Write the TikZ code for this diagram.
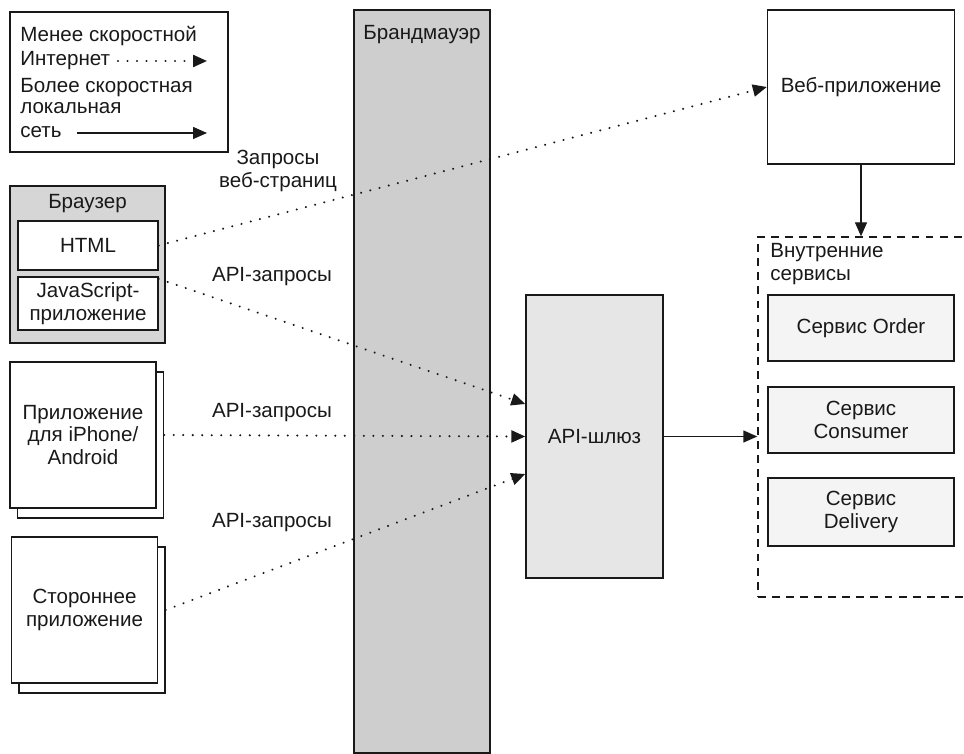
\documentclass[tikz,border=0pt]{standalone}
\usepackage{fontspec}
\setmainfont{Liberation Sans}
\usetikzlibrary{arrows.meta,shadows}
\definecolor{lineblack}{RGB}{25,25,25}
\definecolor{wallgray}{RGB}{206,206,206}
\definecolor{browsergray}{RGB}{214,214,214}
\definecolor{gatewaygray}{RGB}{230,230,230}
\definecolor{servicegray}{RGB}{244,244,244}

\begin{document}
\begin{tikzpicture}[font=\fontsize{11.7}{13}\selectfont,text=lineblack,
  box/.style={draw=lineblack,line width=0.8pt,fill=white,align=center,inner sep=0pt},
  appbox/.style={box,minimum width=2.92cm,minimum height=2.92cm,
    general shadow={shadow xshift=0.15cm,shadow yshift=-0.2cm,fill=white,draw=lineblack,line width=0.8pt}},
  svcbox/.style={box,fill=servicegray,minimum width=3.72cm,minimum height=1.32cm},
  legtext/.style={anchor=west,inner sep=0pt,text height=1.5ex,text depth=0.35ex},
  slow/.style={-{Triangle[length=2.8mm,width=2.4mm]},line width=1.3pt,line cap=round,
    dash pattern=on 0.01pt off 5.4pt,draw=lineblack},
  fast/.style={-{Triangle[length=2.8mm,width=2.4mm]},line width=0.8pt,draw=lineblack}]
\useasboundingbox (0,0) rectangle (19.28,15.06);
\node[draw=lineblack,fill=wallgray,line width=0.8pt,minimum width=2.72cm,minimum height=14.86cm,inner sep=0pt] (wall) at (8.44,7.43) {};
\node (walllabel) at (8.44,14.36) {Брандмауэр};
\node[box,minimum width=4.36cm,minimum height=2.8cm] (legend) at (2.38,13.42) {};
\node[legtext] (legslow1) at (0.4,14.34) {Менее скоростной};
\node[legtext] (legslow2) at (0.4,13.86) {Интернет};
\node[legtext] (legfast1) at (0.4,13.32) {Более скоростная};
\node[legtext] (legfast2) at (0.4,12.9) {локальная};
\node[legtext] (legfast3) at (0.4,12.42) {сеть};
\coordinate (slowfrom) at (2.36,13.84);
\coordinate (slowto) at (4.14,13.84);
\coordinate (fastfrom) at (1.54,12.4);
\coordinate (fastto) at (4.14,12.4);
\draw[slow] (slowfrom) -- (slowto);
\draw[fast] (fastfrom) -- (fastto);
\node[box,fill=browsergray,minimum width=3.1cm,minimum height=3.14cm] (browser) at (1.75,9.77) {};
\node (browserlabel) at (1.75,10.98) {Браузер};
\node[box,minimum width=2.8cm,minimum height=0.98cm] (html) at (1.76,10.15) {HTML};
\node[box,minimum width=2.8cm,minimum height=1.06cm] (jsapp) at (1.76,8.99) {JavaScript-\\приложение};
\node[appbox] (iphone) at (1.66,6.36) {Приложение\\для iPhone/\\Android};
\node[appbox] (thirdparty) at (1.69,2.86) {Стороннее\\приложение};
\node[box,fill=gatewaygray,minimum width=2.74cm,minimum height=5.66cm] (gateway) at (11.89,6.33) {API-шлюз};
\node[box,minimum width=3.74cm,minimum height=3.08cm] (webapp) at (17.22,13.32) {Веб-приложение};
\node[draw=lineblack,line width=0.8pt,dash pattern=on 4.5pt off 3.5pt,minimum width=4.2cm,minimum height=7.2cm,inner sep=0pt] (internal) at (17.26,6.72) {};
\node[anchor=west,align=left,inner sep=0pt] (internallabel) at (15.4,9.78) {Внутренние\\сервисы};
\node[svcbox] (order) at (17.22,8.5) {Сервис Order};
\node[svcbox] (consumer) at (17.22,6.66) {Сервис\\Consumer};
\node[svcbox,minimum height=1.36cm] (delivery) at (17.22,4.82) {Сервис\\Delivery};
\node[align=center] (pagereq) at (5.56,11.64) {Запросы\\веб-страниц};
\node (apireq1) at (5.44,9.52) {API-запросы};
\node (apireq2) at (5.44,6.8) {API-запросы};
\node (apireq3) at (5.44,4.6) {API-запросы};
\draw[slow] (html.east) -- (webapp.west);
\draw[slow] ([yshift=-0.05cm]jsapp.north east) -- ([yshift=0.65cm]gateway.west);
\draw[slow] ([xshift=0.15cm]iphone.east) -- (gateway.west);
\draw[slow] ([xshift=0.15cm]thirdparty.east) -- ([yshift=-0.75cm]gateway.west);
\draw[fast] (gateway.east) -- (gateway.east -| internal.west);
\draw[fast] (webapp.south) -- (webapp.south |- internal.north);
\end{tikzpicture}
\end{document}
